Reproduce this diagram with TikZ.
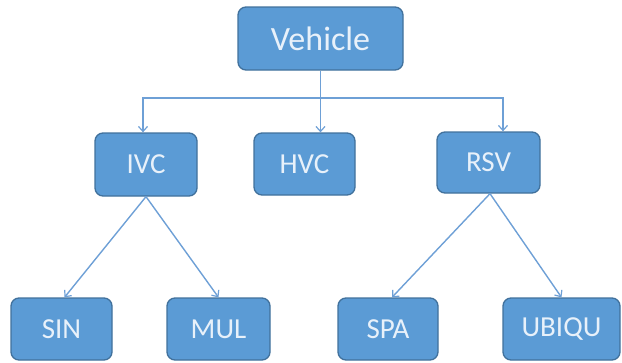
\documentclass[tikz,border=0pt]{standalone}
\usepackage{fontspec}
\setmainfont{Carlito}
\usetikzlibrary{arrows.meta}
\definecolor{boxfill}{RGB}{91,155,213}
\definecolor{boxline}{RGB}{65,113,156}
\definecolor{txt}{RGB}{232,241,250}
\definecolor{conncol}{RGB}{110,160,214}
\tikzset{
  box/.style={draw=boxline, line width=1.3pt, fill=boxfill, rounded corners=8pt,
    text=txt, font=\fontsize{29}{33}\selectfont, minimum height=62pt, inner sep=0pt},
  conn/.style={draw=conncol, line width=1.4pt},
  arr/.style={conn, -{Straight Barb[length=5pt,width=9pt,line width=1.2pt]}}
}
\begin{document}
\begin{tikzpicture}[x=1pt,y=-1pt]
\useasboundingbox (0,0) rectangle (622,362);
\node[box, minimum width=165pt, minimum height=63pt, font=\fontsize{34}{38}\selectfont] (veh) at (320.5,38.5) {Vehicle};
\node[box, minimum width=102pt, minimum height=63pt] (ivc) at (146,164.5) {IVC};
\node[box, minimum width=101pt] (hvc) at (304.5,164) {HVC};
\node[box, minimum width=103pt, minimum height=61pt] (rsv) at (488.5,162.5) {RSV};
\node[box, minimum width=101pt] (sin) at (61.5,329) {SIN};
\node[box, minimum width=103pt] (mul) at (218.5,329) {MUL};
\node[box, minimum width=100pt] (spa) at (388,329) {SPA};
\node[box, minimum width=117pt] (ubi) at (561.5,329) {UBIQU};
\coordinate (busy) at (0,98);
\draw[conn] (veh.south) -- (veh.south |- busy);
\draw[arr] (veh.south |- busy) -| ([xshift=-3pt]ivc.north);
\draw[arr] (veh.south |- busy) -| ([xshift=14.5pt]rsv.north);
\draw[arr] (veh.south |- busy) -- (veh.south |- hvc.north);
\draw[arr] (ivc.south) -- ([xshift=3pt]sin.north);
\draw[arr] (ivc.south) -- (mul.north);
\draw[arr] ([xshift=1.5pt]rsv.south) -- ([xshift=4pt]spa.north);
\draw[arr] ([xshift=1.5pt]rsv.south) -- (ubi.north);
\end{tikzpicture}
\end{document}
